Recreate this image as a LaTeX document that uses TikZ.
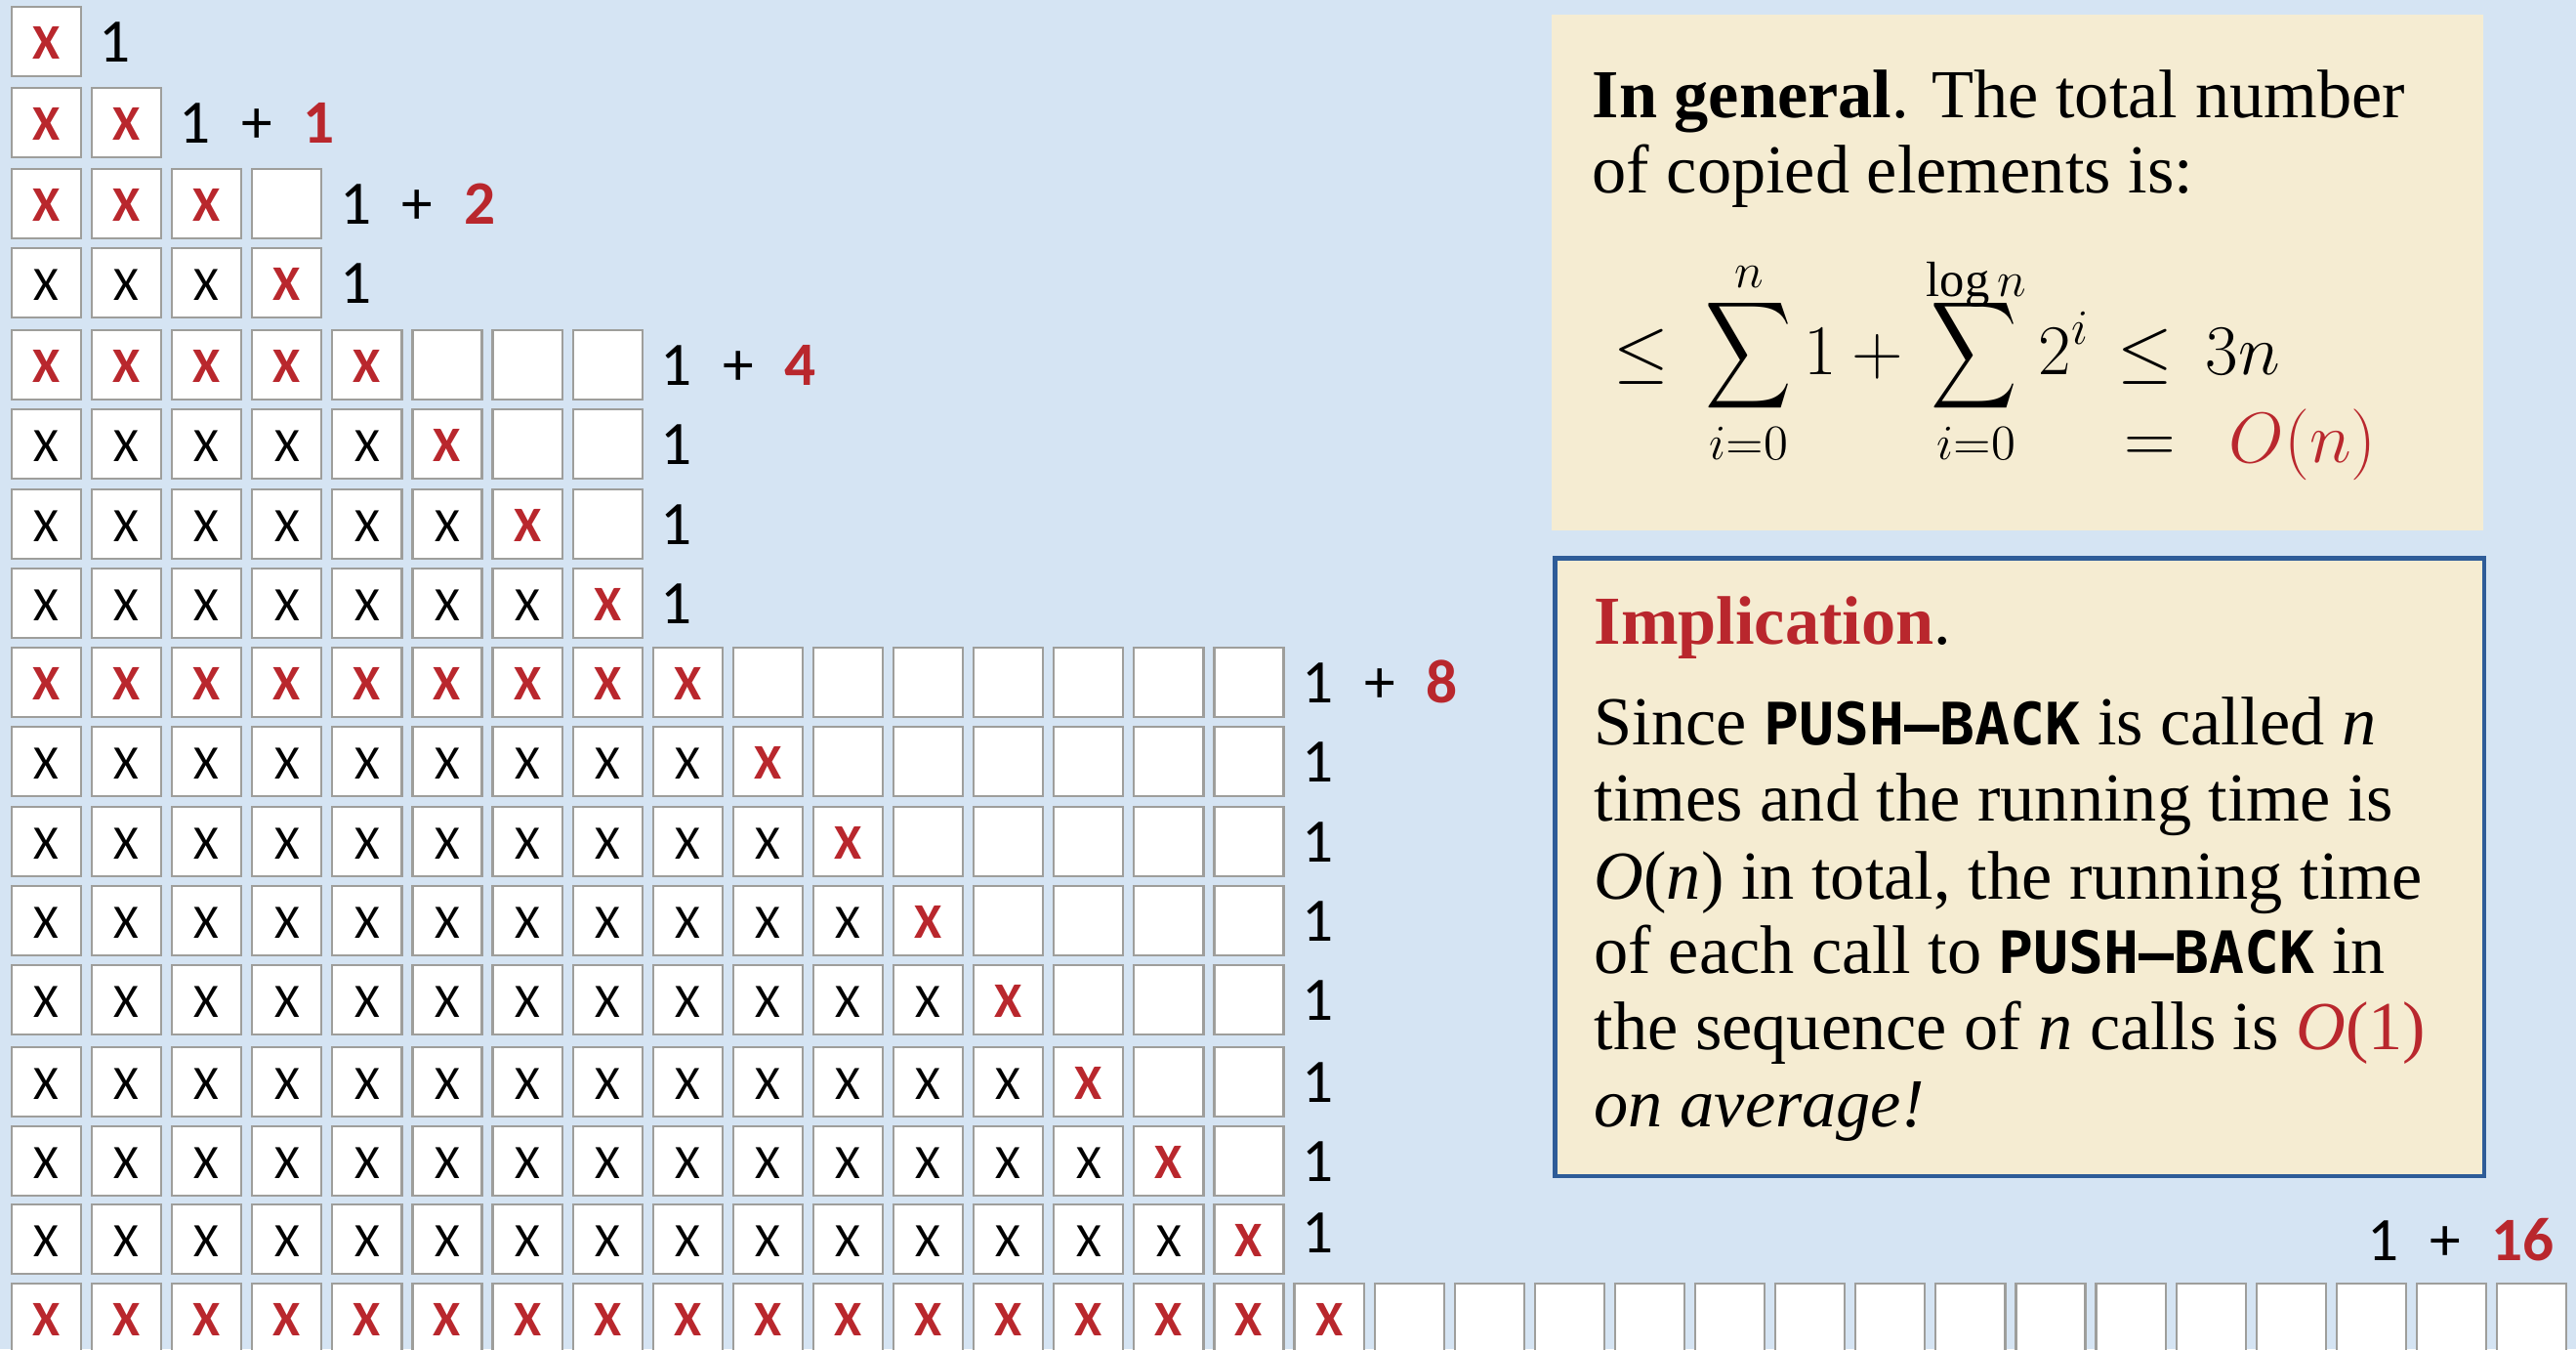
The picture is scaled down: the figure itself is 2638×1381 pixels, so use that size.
\RequirePackage{fix-cm}
\documentclass[tikz,border=0pt]{standalone}
\usepackage{amsmath}
\usepackage{exscale}
\usepackage{graphicx}
\usepackage{fontspec}
\setmainfont{Liberation Serif}
\newfontfamily\calib{Carlito}
\newfontfamily\monofam{DejaVu Sans Mono}
\definecolor{bgblue}{RGB}{213,228,243}
\definecolor{beige}{RGB}{245,236,210}
\definecolor{xred}{RGB}{185,39,45}
\definecolor{frameblue}{RGB}{46,92,152}
\definecolor{cellgray}{RGB}{158,158,155}
\newcommand\pushback{{\monofam\bfseries\fontsize{17}{20}\selectfont PUSH–BACK}}
\newcommand\plusred[1]{1\hspace{0.5em}+\hspace{0.5em}{\bfseries\color{xred}#1}}
\newcommand\narrowsum{\mathop{\scalebox{0.84}[1.05]{$\displaystyle\sum$}}\limits}
\newcommand\lowlim[1]{\raisebox{-0.15cm}[\height][0pt]{$\scriptstyle #1$}}
\tikzset{
  cellbox/.style={draw=cellgray, fill=white, line width=0.022cm, minimum width=0.71cm, minimum height=0.71cm, inner sep=0pt, text height=0.36cm, text depth=0pt},
  blackx/.style={font=\calib\fontsize{14}{16}\selectfont},
  redx/.style={font=\calib\bfseries\fontsize{14.5}{16}\selectfont, text=xred},
  rowlabel/.style={anchor=base west, inner sep=0pt, font=\calib\fontsize{18}{20}\selectfont},
  bodytext/.style={anchor=base west, inner sep=0pt, font=\fontsize{20}{24}\selectfont},
  mathtext/.style={anchor=base west, inner sep=0pt, font=\huge},
}
\begin{document}
\begin{tikzpicture}[x=0.01cm,y=-0.01cm]
\useasboundingbox (0,0) rectangle (2638,1381);
\fill[bgblue] (0,0) rectangle (2638,1381);
\clip (0,0) rectangle (2638,1381);

% cells
\foreach \rw/\tp/\cp/\fl in {1/6/1/1, 2/89/2/1, 3/172/4/1, 4/253/4/0, 5/337/8/1, 6/418/8/0, 7/500/8/0, 8/581/8/0, 9/662/16/1, 10/743/16/0, 11/825/16/0, 12/906/16/0, 13/987/16/0, 14/1071/16/0, 15/1152/16/0, 16/1232/16/0, 17/1313/32/1}{
  \foreach \j in {1,...,\cp}{
    \pgfmathsetmacro\cx{47.5+(\j-1)*82.1}
    \pgfmathsetmacro\cy{\tp+36.5}
    \ifnum\j>\rw
      \node[cellbox] (c\rw-\j) at (\cx,\cy) {};
    \else
      \ifnum\fl=1
        \node[cellbox,redx] (c\rw-\j) at (\cx,\cy) {X};
      \else
        \ifnum\j=\rw
          \node[cellbox,redx] (c\rw-\j) at (\cx,\cy) {X};
        \else
          \node[cellbox,blackx] (c\rw-\j) at (\cx,\cy) {X};
        \fi
      \fi
    \fi
  }
}

% row labels
\foreach \rw/\tp/\cp/\txt in {1/6/1/{1}, 2/89/2/{\plusred{1}}, 3/172/4/{\plusred{2}}, 4/253/4/{1}, 5/337/8/{\plusred{4}}, 6/418/8/{1}, 7/500/8/{1}, 8/581/8/{1}, 9/662/16/{\plusred{8}}, 10/743/16/{1}, 11/825/16/{1}, 12/906/16/{1}, 13/987/16/{1}, 14/1071/16/{1}, 15/1152/16/{1}, 16/1232/16/{1}}{
  \pgfmathsetmacro\lx{19+\cp*82.1}
  \ifnum\rw=16
    \pgfmathsetmacro\ly{\tp+50}
  \else
    \pgfmathsetmacro\ly{\tp+57}
  \fi
  \node[rowlabel] (l\rw) at (\lx,\ly) {\txt};
}
\node[rowlabel] (l17) at (2424,1290) {\plusred{16}};

% box 1
\node[fill=beige, anchor=north west, minimum width=9.54cm, minimum height=5.28cm, inner sep=0pt] (general) at (1588,14) {};
\node[bodytext] (g1) at (1630,120) {\textbf{In general}. The total number};
\node[bodytext] (g2) at (1630,197) {of copied elements is:};
\node[mathtext] (le1) at (1652,383) {$\leq$};
\node[mathtext] (sumA) at (1746,383) {$\displaystyle \narrowsum_{i=0}^{\lowlim{n}} 1 + {}$};
\node[mathtext] (sumB) at (1972,383) {$\displaystyle \narrowsum_{i=0}^{\lowlim{\log n}} 2^{i}$};
\node[mathtext] (le2) at (2168,383) {$\leq$};
\node[mathtext] (three) at (2258,383) {$3n$};
\node[mathtext] (eq) at (2175,473) {$=$};
\node[mathtext, text=xred] (on) at (2282,473) {$O(n)$};

% box 2
\node[draw=frameblue, line width=0.045cm, fill=beige, anchor=north west, minimum width=9.51cm, minimum height=6.32cm, inner sep=0pt] (impl) at (1590.25,569.25) {};
\node[bodytext] (i0) at (1632,659) {\textbf{\color{xred}Implication}.};
\node[bodytext] (i1) at (1632,762) {Since \pushback{} is called \textit{n}};
\node[bodytext] (i2) at (1632,840) {times and the running time is};
\node[bodytext] (i3) at (1632,920) {\textit{O}(\textit{n}) in total, the running time};
\node[bodytext] (i4) at (1632,996) {of each call to \pushback{} in};
\node[bodytext] (i5) at (1632,1074) {the sequence of \textit{n} calls is {\color{xred}\textit{O}(1)}};
\node[bodytext] (i6) at (1632,1153) {\textit{on average!}};
\end{tikzpicture}
\end{document}
